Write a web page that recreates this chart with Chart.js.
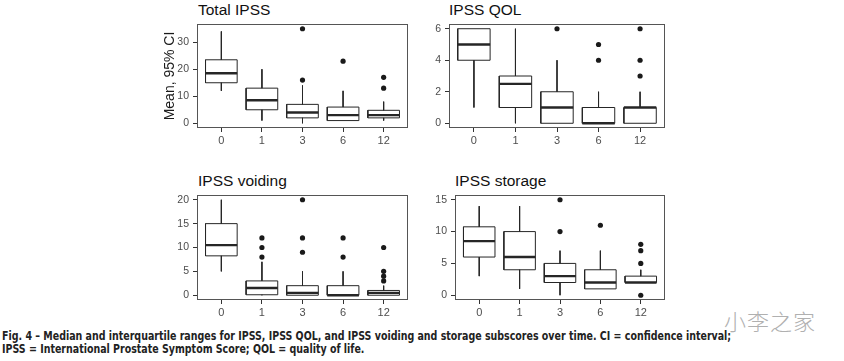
<!DOCTYPE html>
<html lang="en">
<head>
  <meta charset="UTF-8">
  <title>IPSS over time</title>
  <style>
    body {
      margin: 0;
      padding: 0;
      background-color: #ffffff;
      width: 844px;
      height: 361px;
      position: relative;
      overflow: hidden;
      font-family: 'Liberation Sans', Arial, sans-serif;
    }

    canvas, .panelTitle, .caption, .mark {
      position: absolute;
    }

    .panelTitle {
      font-size: 15.5px;
      line-height: 16px;
      color: #111;
      white-space: nowrap;
    }

    .caption {
      left: 2px;
      top: 330px;
      font-family: 'DejaVu Sans Condensed', sans-serif;
      font-weight: bold;
      font-size: 11.5px;
      line-height: 12.5px;
      color: #222;
      white-space: nowrap;
      transform: scaleX(0.915);
      transform-origin: left top;
    }

    .mark {
      left: 724px;
      top: 304px;
      font-family: 'Noto Sans CJK SC', sans-serif;
      font-weight: 300;
      font-size: 22px;
      color: #b0b0b0;
      letter-spacing: 1px;
    }
  </style>
</head>
<body>
  <div class="panelTitle" style="left:198px; top:2px;">Total IPSS</div>
  <div class="panelTitle" style="left:449px; top:2px;">IPSS QOL</div>
  <div class="panelTitle" style="left:198px; top:173px;">IPSS voiding</div>
  <div class="panelTitle" style="left:455px; top:173px;">IPSS storage</div>

  <canvas id="totalChart" width="265" height="150" style="left:150px; top:0px;"></canvas>
  <canvas id="qolChart" width="257" height="150" style="left:415px; top:0px;"></canvas>
  <canvas id="voidingChart" width="265" height="152" style="left:150px; top:170px;"></canvas>
  <canvas id="storageChart" width="257" height="152" style="left:415px; top:170px;"></canvas>

  <div class="mark">小李之家</div>
  <div class="caption">
    Fig. 4 – Median and interquartile ranges for IPSS, IPSS QOL, and IPSS voiding and storage subscores over time. CI = confidence interval;<br>
    IPSS = International Prostate Symptom Score; QOL = quality of life.
  </div>

  <script src="https://cdn.jsdelivr.net/npm/chart.js@4.4.0/dist/chart.umd.min.js"></script>
  <script>
    // months after treatment (x categories)
    const months = ['0', '1', '3', '6', '12'];

    // Total IPSS
    const totalMin = [12, 1, 0, 1, 1];
    const totalQ1 = [15, 5, 2, 1, 2];
    const totalMed = [18.5, 8.5, 4, 3, 3];
    const totalQ3 = [23.5, 13, 7, 6, 4.8];
    const totalMax = [34, 20, 14, 12, 8];
    const totalOut = [[], [], [35, 16], [23], [17, 13]];
    const totalTicks = [0, 10, 20, 30];

    // IPSS QOL
    const qolMin = [1, 0, 0, 0, 0];
    const qolQ1 = [4, 1, 0, 0, 0];
    const qolMed = [5, 2.5, 1, 0, 1];
    const qolQ3 = [6, 3, 2, 1, 1];
    const qolMax = [6, 6, 4, 2, 2];
    const qolOut = [[], [], [6], [5, 4], [6, 4, 3]];
    const qolTicks = [0, 2, 4, 6];

    // IPSS voiding
    const voidMin = [5, 0, 0, 0, 0];
    const voidQ1 = [8.25, 0.1, 0, 0, 0];
    const voidMed = [10.5, 1.5, 0.5, 0, 0.5];
    const voidQ3 = [15, 3, 2, 2, 1];
    const voidMax = [20, 7, 5, 5, 2];
    const voidOut = [[], [12, 10, 8], [20, 12, 9], [12, 8], [10, 5, 4, 3]];
    const voidTicks = [0, 5, 10, 15, 20];

    // IPSS storage
    const storMin = [3, 1, 0, 1, 2];
    const storQ1 = [6, 4, 2, 1, 2];
    const storMed = [8.5, 6, 3, 2, 2];
    const storQ3 = [10.75, 10, 5, 4, 3];
    const storMax = [14, 14, 7, 7, 4];
    const storOut = [[], [], [15, 10], [11], [8, 7, 5, 0]];
    const storTicks = [0, 5, 10, 15];

    Chart.defaults.font.family = "'Liberation Sans', Arial, sans-serif";

    const ink = '#262626';
    const halfBox = 0.39;

    // frame around the plotting area, like the ggplot panel border
    const panelBorder = {
      id: 'panelBorder',
      beforeDatasetsDraw(chart) {
        const { ctx, chartArea: a } = chart;
        ctx.save();
        ctx.strokeStyle = '#555555';
        ctx.lineWidth = 1;
        ctx.strokeRect(Math.round(a.left) + 0.5, Math.round(a.top) + 0.5,
          Math.round(a.width) - 1, Math.round(a.height) - 1);
        ctx.restore();
      }
    };

    function boxDatasets(mins, q1s, meds, q3s, maxs, outs) {
      const gap = i => ({ x: i, y: null });
      const whiskers = [], boxes = [], medians = [], points = [];

      months.forEach((m, i) => {
        whiskers.push({ x: i, y: maxs[i] }, { x: i, y: q3s[i] }, gap(i),
          { x: i, y: q1s[i] }, { x: i, y: mins[i] }, gap(i));
        boxes.push({ x: i - halfBox, y: q1s[i] }, { x: i + halfBox, y: q1s[i] },
          { x: i + halfBox, y: q3s[i] }, { x: i - halfBox, y: q3s[i] },
          { x: i - halfBox, y: q1s[i] }, gap(i));
        medians.push({ x: i - halfBox, y: meds[i] }, { x: i + halfBox, y: meds[i] }, gap(i));
        outs[i].forEach(v => points.push({ x: i, y: v }));
      });

      const lineStyle = { showLine: true, spanGaps: false, pointRadius: 0, tension: 0, borderColor: ink };
      return [
        { ...lineStyle, label: 'median', data: medians, borderWidth: 2.4 },
        { ...lineStyle, label: 'box', data: boxes, borderWidth: 1 },
        { ...lineStyle, label: 'whisker', data: whiskers, borderWidth: 1 },
        { label: 'outlier', data: points, showLine: false, pointRadius: 2.6,
          pointBackgroundColor: '#1a1a1a', pointBorderWidth: 0 }
      ];
    }

    function makePanel(id, stats, yTicks, layout) {
      const all = stats.flat(2);
      const lo = Math.min(...all), hi = Math.max(...all);
      const pad = (hi - lo) * 0.05;

      new Chart(document.getElementById(id), {
        type: 'scatter',
        data: { datasets: boxDatasets(...stats) },
        options: {
          responsive: false,
          animation: false,
          layout: { padding: { top: layout.top, right: layout.right, left: 0, bottom: 0 } },
          plugins: { legend: { display: false }, tooltip: { enabled: false } },
          scales: {
            x: {
              type: 'linear',
              min: -0.6,
              max: months.length - 0.4,
              afterBuildTicks: s => { s.ticks = months.map((m, i) => ({ value: i })); },
              afterFit: s => { s.height = 22; },
              ticks: { callback: v => months[v], color: '#4d4d4d', font: { size: 11 }, padding: 2, maxRotation: 0 },
              grid: { drawOnChartArea: false, drawTicks: true, tickLength: 4, color: '#333333' },
              border: { display: false }
            },
            y: {
              min: lo - pad,
              max: hi + pad,
              afterBuildTicks: s => { s.ticks = yTicks.map(v => ({ value: v })); },
              afterFit: s => { s.width = layout.yWidth; },
              ticks: { color: '#4d4d4d', font: { size: 10.5 }, padding: 4 },
              grid: { drawOnChartArea: false, drawTicks: true, tickLength: 4, color: '#333333' },
              border: { display: false },
              title: {
                display: !!layout.yTitle,
                text: layout.yTitle,
                color: '#1a1a1a',
                font: { size: 14 },
                padding: { top: 12, bottom: 0 }
              }
            }
          }
        },
        plugins: [panelBorder]
      });
    }

    makePanel('totalChart', [totalMin, totalQ1, totalMed, totalQ3, totalMax, totalOut], totalTicks,
      { top: 24, right: 7, yWidth: 47, yTitle: 'Mean, 95% CI' });
    makePanel('qolChart', [qolMin, qolQ1, qolMed, qolQ3, qolMax, qolOut], qolTicks,
      { top: 24, right: 7, yWidth: 34 });
    makePanel('voidingChart', [voidMin, voidQ1, voidMed, voidQ3, voidMax, voidOut], voidTicks,
      { top: 25, right: 7, yWidth: 47 });
    makePanel('storageChart', [storMin, storQ1, storMed, storQ3, storMax, storOut], storTicks,
      { top: 25, right: 7, yWidth: 40 });
  </script>
</body>
</html>
